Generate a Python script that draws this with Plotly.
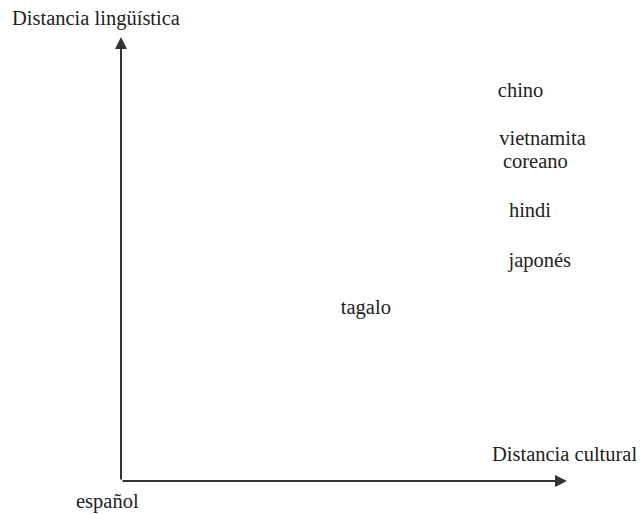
import plotly.graph_objects as go

# languages placed by cultural (x) and linguistic (y) distance from Spanish
langs = ["chino", "vietnamita", "coreano", "hindi", "japonés", "tagalo"]
cultural = [8.96, 9.45, 9.29, 9.17, 9.39, 5.49]
linguistic = [8.76, 7.68, 7.16, 6.06, 4.93, 3.87]

origin_label = "español"
x_title = "Distancia cultural"
y_title = "Distancia lingüística"

FONT = dict(family="Liberation Serif, Times New Roman, serif", size=20.5, color="#222")
AX = "#333"

fig = go.Figure()
fig.add_trace(go.Scatter(x=cultural, y=linguistic, mode="text", text=langs,
                         textposition="middle center", textfont=FONT,
                         hoverinfo="skip", showlegend=False))

# axes drawn as arrows from the origin
for tip in [(0, 10.0), (10.0, 0)]:
    fig.add_annotation(x=tip[0], y=tip[1], ax=0, ay=0, xref="x", yref="y",
                       axref="x", ayref="y", text="", showarrow=True,
                       arrowhead=2, arrowsize=1.2, arrowwidth=2,
                       arrowcolor=AX, standoff=0)

fig.add_annotation(x=-0.31, y=-0.47, xref="x", yref="y", text=origin_label,
                   showarrow=False, font=FONT)
fig.add_annotation(x=9.94, y=0.61, xref="x", yref="y", text=x_title,
                   showarrow=False, font=FONT)
fig.add_annotation(x=-0.56, y=10.41, xref="x", yref="y", text=y_title,
                   showarrow=False, font=FONT)

# page body has an 8px margin, ranges chosen so the origin lands where it should
fig.update_xaxes(range=[-2.534, 11.906], visible=False)
fig.update_yaxes(range=[-0.923, 10.653], visible=False)
fig.update_layout(width=644, height=514, margin=dict(l=0, r=0, t=0, b=0),
                  plot_bgcolor="white", paper_bgcolor="white")

fig.write_html("out.html")
